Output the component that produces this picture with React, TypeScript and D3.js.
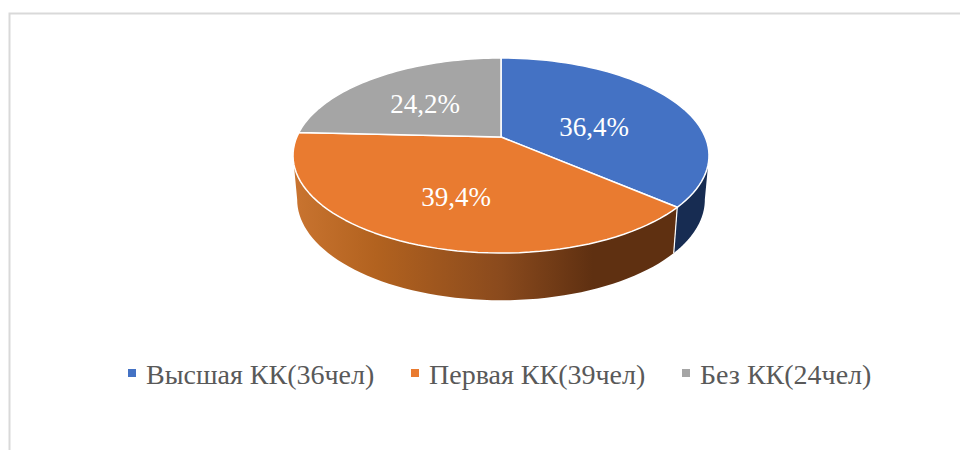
import React from 'react';
import * as d3 from 'd3';

const categories = ['Высшая КК(36чел)', 'Первая КК(39чел)', 'Без КК(24чел)'];
const counts = [36, 39, 24];
const percentLabels = ['36,4%', '39,4%', '24,2%'];
const colors = ['#4472c4', '#e97b30', '#a5a5a5'];
const legendX = [128, 411, 682];

const width = 960, height = 450;
const cx = 501;

// perspective view of the disc: p is the foreshortening between the far and the near edge
const p = 0.19;
const rx = 204.2;
const topFace = { y0: 137, ry: 94, scale: 1 };
const bottomFace = { y0: 180.5, ry: 97, scale: 0.98 };

type Face = typeof topFace;

const project = (angle: number, f: Face, r = 1): [number, number] => {
    const u = Math.sin(angle) * r;
    const v = Math.cos(angle) * r;
    const w = 1 + p * v;
    return [cx + (rx * f.scale * u) / w, f.y0 - (f.ry * v) / w];
};

const line = d3.line();

const rimPoints = (a0: number, a1: number, f: Face) =>
    d3.range(0, 1.0001, 1 / 60).map(t => project(a0 + (a1 - a0) * t, f));

const slices = d3.pie<number>().sort(null)(counts);

// angle at which the outline of the projected disc turns back
const tangentRight = Math.acos(-p);
const tangentLeft = 2 * Math.PI - tangentRight;

const wallPath = (a0: number, a1: number) =>
    line([...rimPoints(a0, a1, topFace), ...rimPoints(a1, a0, bottomFace)]) + 'Z';

const facePath = (a0: number, a1: number) =>
    line([project(0, topFace, 0), ...rimPoints(a0, a1, topFace)]) + 'Z';

const labelPos: [number, number][] = [[594, 127], [456, 197], [425, 104]];

const App: React.FC = () => {
    return (
        <svg
            width={width}
            height={height}
            style={{ position: 'absolute', left: 0, top: 0, background: '#fff' }}
            fontFamily="'Liberation Serif', serif"
        >
            <defs>
                <linearGradient id="wall-orange" gradientUnits="userSpaceOnUse" x1={293} x2={709} y1={0} y2={0}>
                    <stop offset="0" stopColor="#c97430" />
                    <stop offset="0.2" stopColor="#b2621f" />
                    <stop offset="0.5" stopColor="#8a4a1d" />
                    <stop offset="0.72" stopColor="#5f3011" />
                    <stop offset="1" stopColor="#5f3011" />
                </linearGradient>
            </defs>

            <path d={`M960,13.5H9.5V450`} fill="none" stroke="#d9d9d9" strokeWidth={2} />

            <path d={wallPath(slices[0].endAngle, tangentRight)} fill="#172c52" />
            <path d={wallPath(slices[0].endAngle, tangentLeft)} fill="url(#wall-orange)" />
            <path
                d={line([project(slices[0].endAngle, topFace), project(slices[0].endAngle, bottomFace)]) ?? ''}
                stroke="#fff"
                strokeWidth={1.2}
                fill="none"
            />

            {slices.map((s, i) => (
                <path key={i} d={facePath(s.startAngle, s.endAngle)} fill={colors[i]} stroke="#fff" strokeWidth={1.5} strokeLinejoin="round" />
            ))}

            {percentLabels.map((t, i) => (
                <text key={t} x={labelPos[i][0]} y={labelPos[i][1]} dy="0.35em" fontSize={27} fill="#fff" textAnchor="middle">
                    {t}
                </text>
            ))}

            {categories.map((c, i) => (
                <g key={c}>
                    <rect x={legendX[i]} y={369} width={8} height={8} fill={colors[i]} />
                    <text x={legendX[i] + 18} y={384} fontSize={28} fill="#595959">
                        {c}
                    </text>
                </g>
            ))}
        </svg>
    );
};

export default App;
